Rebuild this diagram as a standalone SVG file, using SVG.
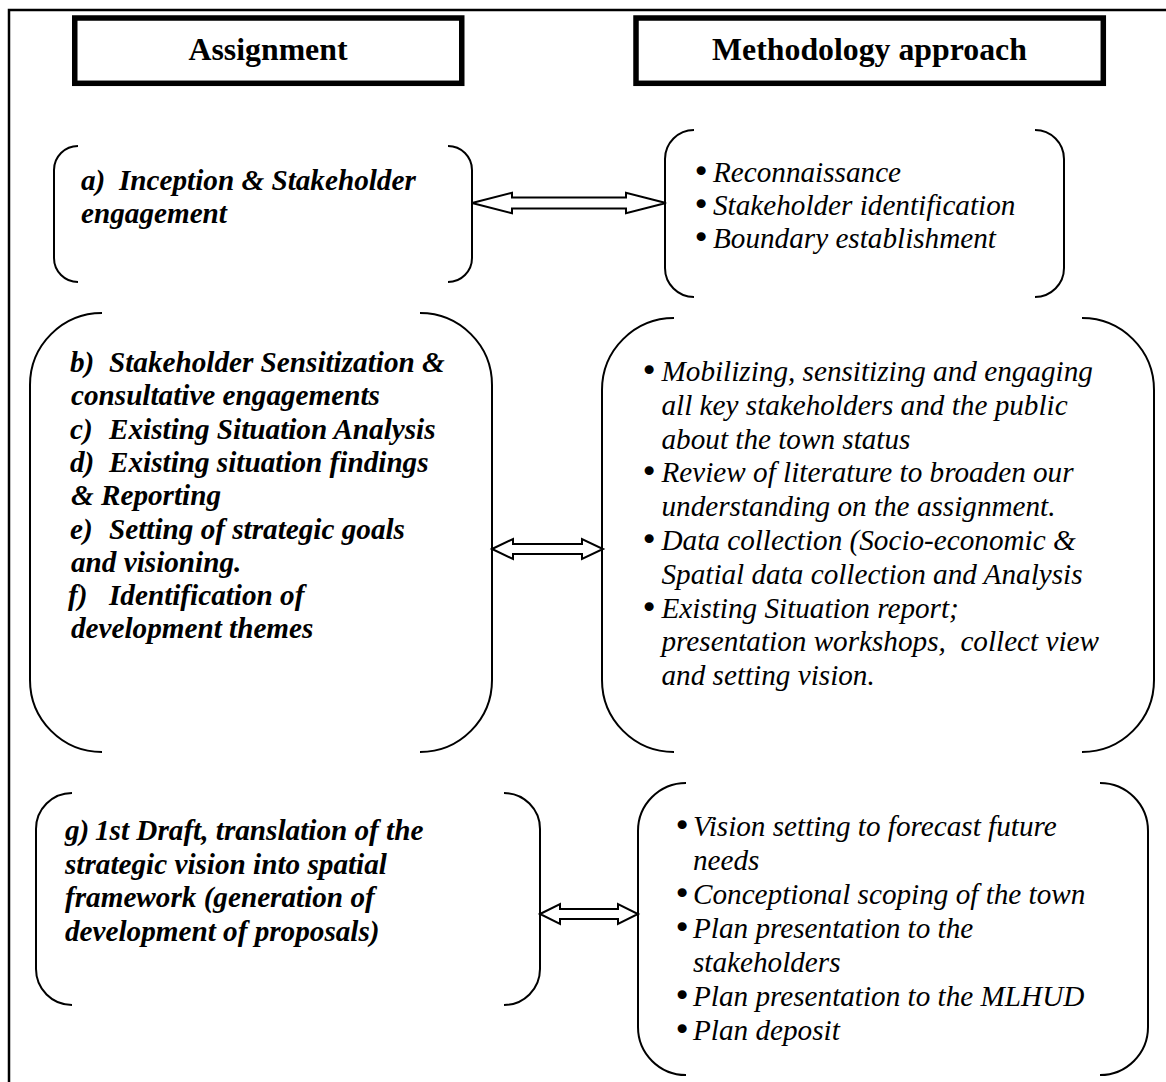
<svg xmlns="http://www.w3.org/2000/svg" width="1166" height="1082" viewBox="0 0 1166 1082">
<style>
.frame{fill:none;stroke:#000;stroke-width:2.5}
.hbox{fill:#fff;stroke:#000;stroke-width:5.5}
.br{fill:none;stroke:#000;stroke-width:2}
.ar{fill:#fff;stroke:#000;stroke-width:2;stroke-linejoin:miter}
.h{font-family:"Liberation Serif","Times New Roman",serif;font-weight:bold;font-size:31.8px;text-anchor:middle}
.bi{font-family:"Liberation Serif","Times New Roman",serif;font-weight:bold;font-style:italic;font-size:29.2px;white-space:pre}
.t{font-family:"Liberation Serif","Times New Roman",serif;font-style:italic;font-size:29.2px;white-space:pre}
.b{font-family:"DejaVu Sans",sans-serif;font-size:31px;font-style:normal}
</style>
<rect width="1166" height="1082" fill="#fff"/>
<path class="frame" d="M9,1082 V10 H1166"/>

<g id="hdr-assignment">
<rect class="hbox" x="74.75" y="18" width="387" height="65.3"/>
<text class="h" x="268" y="60">Assignment</text>
</g>
<g id="hdr-methodology">
<rect class="hbox" x="636" y="18" width="467.3" height="65.3"/>
<text class="h" x="869.5" y="60">Methodology approach</text>
</g>

<g id="n1-left">
<path class="br" d="M78,146 A24,24 0 0 0 54,170 V258 A24,24 0 0 0 78,282"/>
<path class="br" d="M448,146 A24,24 0 0 1 472,170 V258 A24,24 0 0 1 448,282"/>
<text class="bi" x="81" y="190">a)<tspan x="119">Inception &amp; Stakeholder</tspan></text>
<text class="bi" x="81" y="222.5">engagement</text>
</g>

<g id="n1-right">
<path class="br" d="M694,130 A29,29 0 0 0 665,159 V268 A29,29 0 0 0 694,297"/>
<path class="br" d="M1035,130 A29,29 0 0 1 1064,159 V268 A29,29 0 0 1 1035,297"/>
<text class="t" y="182"><tspan class="b" x="692">•</tspan><tspan x="713">Reconnaissance</tspan></text>
<text class="t" y="215"><tspan class="b" x="692">•</tspan><tspan x="713">Stakeholder identification</tspan></text>
<text class="t" y="248"><tspan class="b" x="692">•</tspan><tspan x="713">Boundary establishment</tspan></text>
</g>

<g id="n2-left">
<path class="br" d="M102,313 A72,72 0 0 0 30,385 V680 A72,72 0 0 0 102,752"/>
<path class="br" d="M420,313 A72,72 0 0 1 492,385 V680 A72,72 0 0 1 420,752"/>
<text class="bi" x="70" y="372">b)<tspan x="109">Stakeholder Sensitization &amp;</tspan></text>
<text class="bi" x="71" y="405.3">consultative engagements</text>
<text class="bi" x="70" y="438.6">c)<tspan x="109">Existing Situation Analysis</tspan></text>
<text class="bi" x="70" y="471.9">d)<tspan x="109">Existing situation findings</tspan></text>
<text class="bi" x="71" y="505.2">&amp; Reporting</text>
<text class="bi" x="70" y="538.5">e)<tspan x="109">Setting of strategic goals</tspan></text>
<text class="bi" x="71" y="571.8">and visioning.</text>
<text class="bi" x="68" y="605.1">f)<tspan x="109">Identification of</tspan></text>
<text class="bi" x="71" y="638.4">development themes</text>
</g>

<g id="n2-right">
<path class="br" d="M674,318 A72,72 0 0 0 602,390 V680 A72,72 0 0 0 674,752"/>
<path class="br" d="M1082,318 A72,72 0 0 1 1154,390 V680 A72,72 0 0 1 1082,752"/>
<text class="t" y="381"><tspan class="b" x="640">•</tspan><tspan x="661.5">Mobilizing, sensitizing and engaging</tspan></text>
<text class="t" x="661.5" y="414.8">all key stakeholders and the public</text>
<text class="t" x="661.5" y="448.6">about the town status</text>
<text class="t" y="482.4"><tspan class="b" x="640">•</tspan><tspan x="661.5">Review of literature to broaden our</tspan></text>
<text class="t" x="661.5" y="516.2">understanding on the assignment.</text>
<text class="t" y="550"><tspan class="b" x="640">•</tspan><tspan x="661.5">Data collection (Socio-economic &amp;</tspan></text>
<text class="t" x="661.5" y="583.8">Spatial data collection and Analysis</text>
<text class="t" y="617.6"><tspan class="b" x="640">•</tspan><tspan x="661.5">Existing Situation report;</tspan></text>
<text class="t" x="661.5" y="651.4">presentation workshops,  collect view</text>
<text class="t" x="661.5" y="685.2">and setting vision.</text>
</g>

<g id="n3-left">
<path class="br" d="M72,793 A36,36 0 0 0 36,829 V969 A36,36 0 0 0 72,1005"/>
<path class="br" d="M504,793 A36,36 0 0 1 540,829 V969 A36,36 0 0 1 504,1005"/>
<text class="bi" x="65" y="840">g)<tspan x="95">1st Draft, translation of the</tspan></text>
<text class="bi" x="65" y="873.5">strategic vision into spatial</text>
<text class="bi" x="65" y="907">framework (generation of</text>
<text class="bi" x="65" y="940.5">development of proposals)</text>
</g>

<g id="n3-right">
<path class="br" d="M686,783 A48,48 0 0 0 638,831 V1027 A48,48 0 0 0 686,1075"/>
<path class="br" d="M1100,783 A48,48 0 0 1 1148,831 V1027 A48,48 0 0 1 1100,1075"/>
<text class="t" y="835.5"><tspan class="b" x="673">•</tspan><tspan x="693">Vision setting to forecast future</tspan></text>
<text class="t" x="693" y="869.5">needs</text>
<text class="t" y="903.5"><tspan class="b" x="673">•</tspan><tspan x="693">Conceptional scoping of the town</tspan></text>
<text class="t" y="937.5"><tspan class="b" x="673">•</tspan><tspan x="693">Plan presentation to the</tspan></text>
<text class="t" x="693" y="971.5">stakeholders</text>
<text class="t" y="1005.5"><tspan class="b" x="673">•</tspan><tspan x="693">Plan presentation to the MLHUD</tspan></text>
<text class="t" y="1039.5"><tspan class="b" x="673">•</tspan><tspan x="693">Plan deposit</tspan></text>
</g>

<g id="connectors">
<path class="ar" d="M472,203 L512,192.7 V197.5 H626 V192.7 L666,203 L626,213.3 V208.5 H512 V213.3 Z"/>
<path class="ar" d="M492,549 L513,539 V544 H582 V539 L603,549 L582,559 V554 H513 V559 Z"/>
<path class="ar" d="M540,914 L560,904 V909 H618 V904 L638,914 L618,924 V919 H560 V924 Z"/>
</g>
</svg>
